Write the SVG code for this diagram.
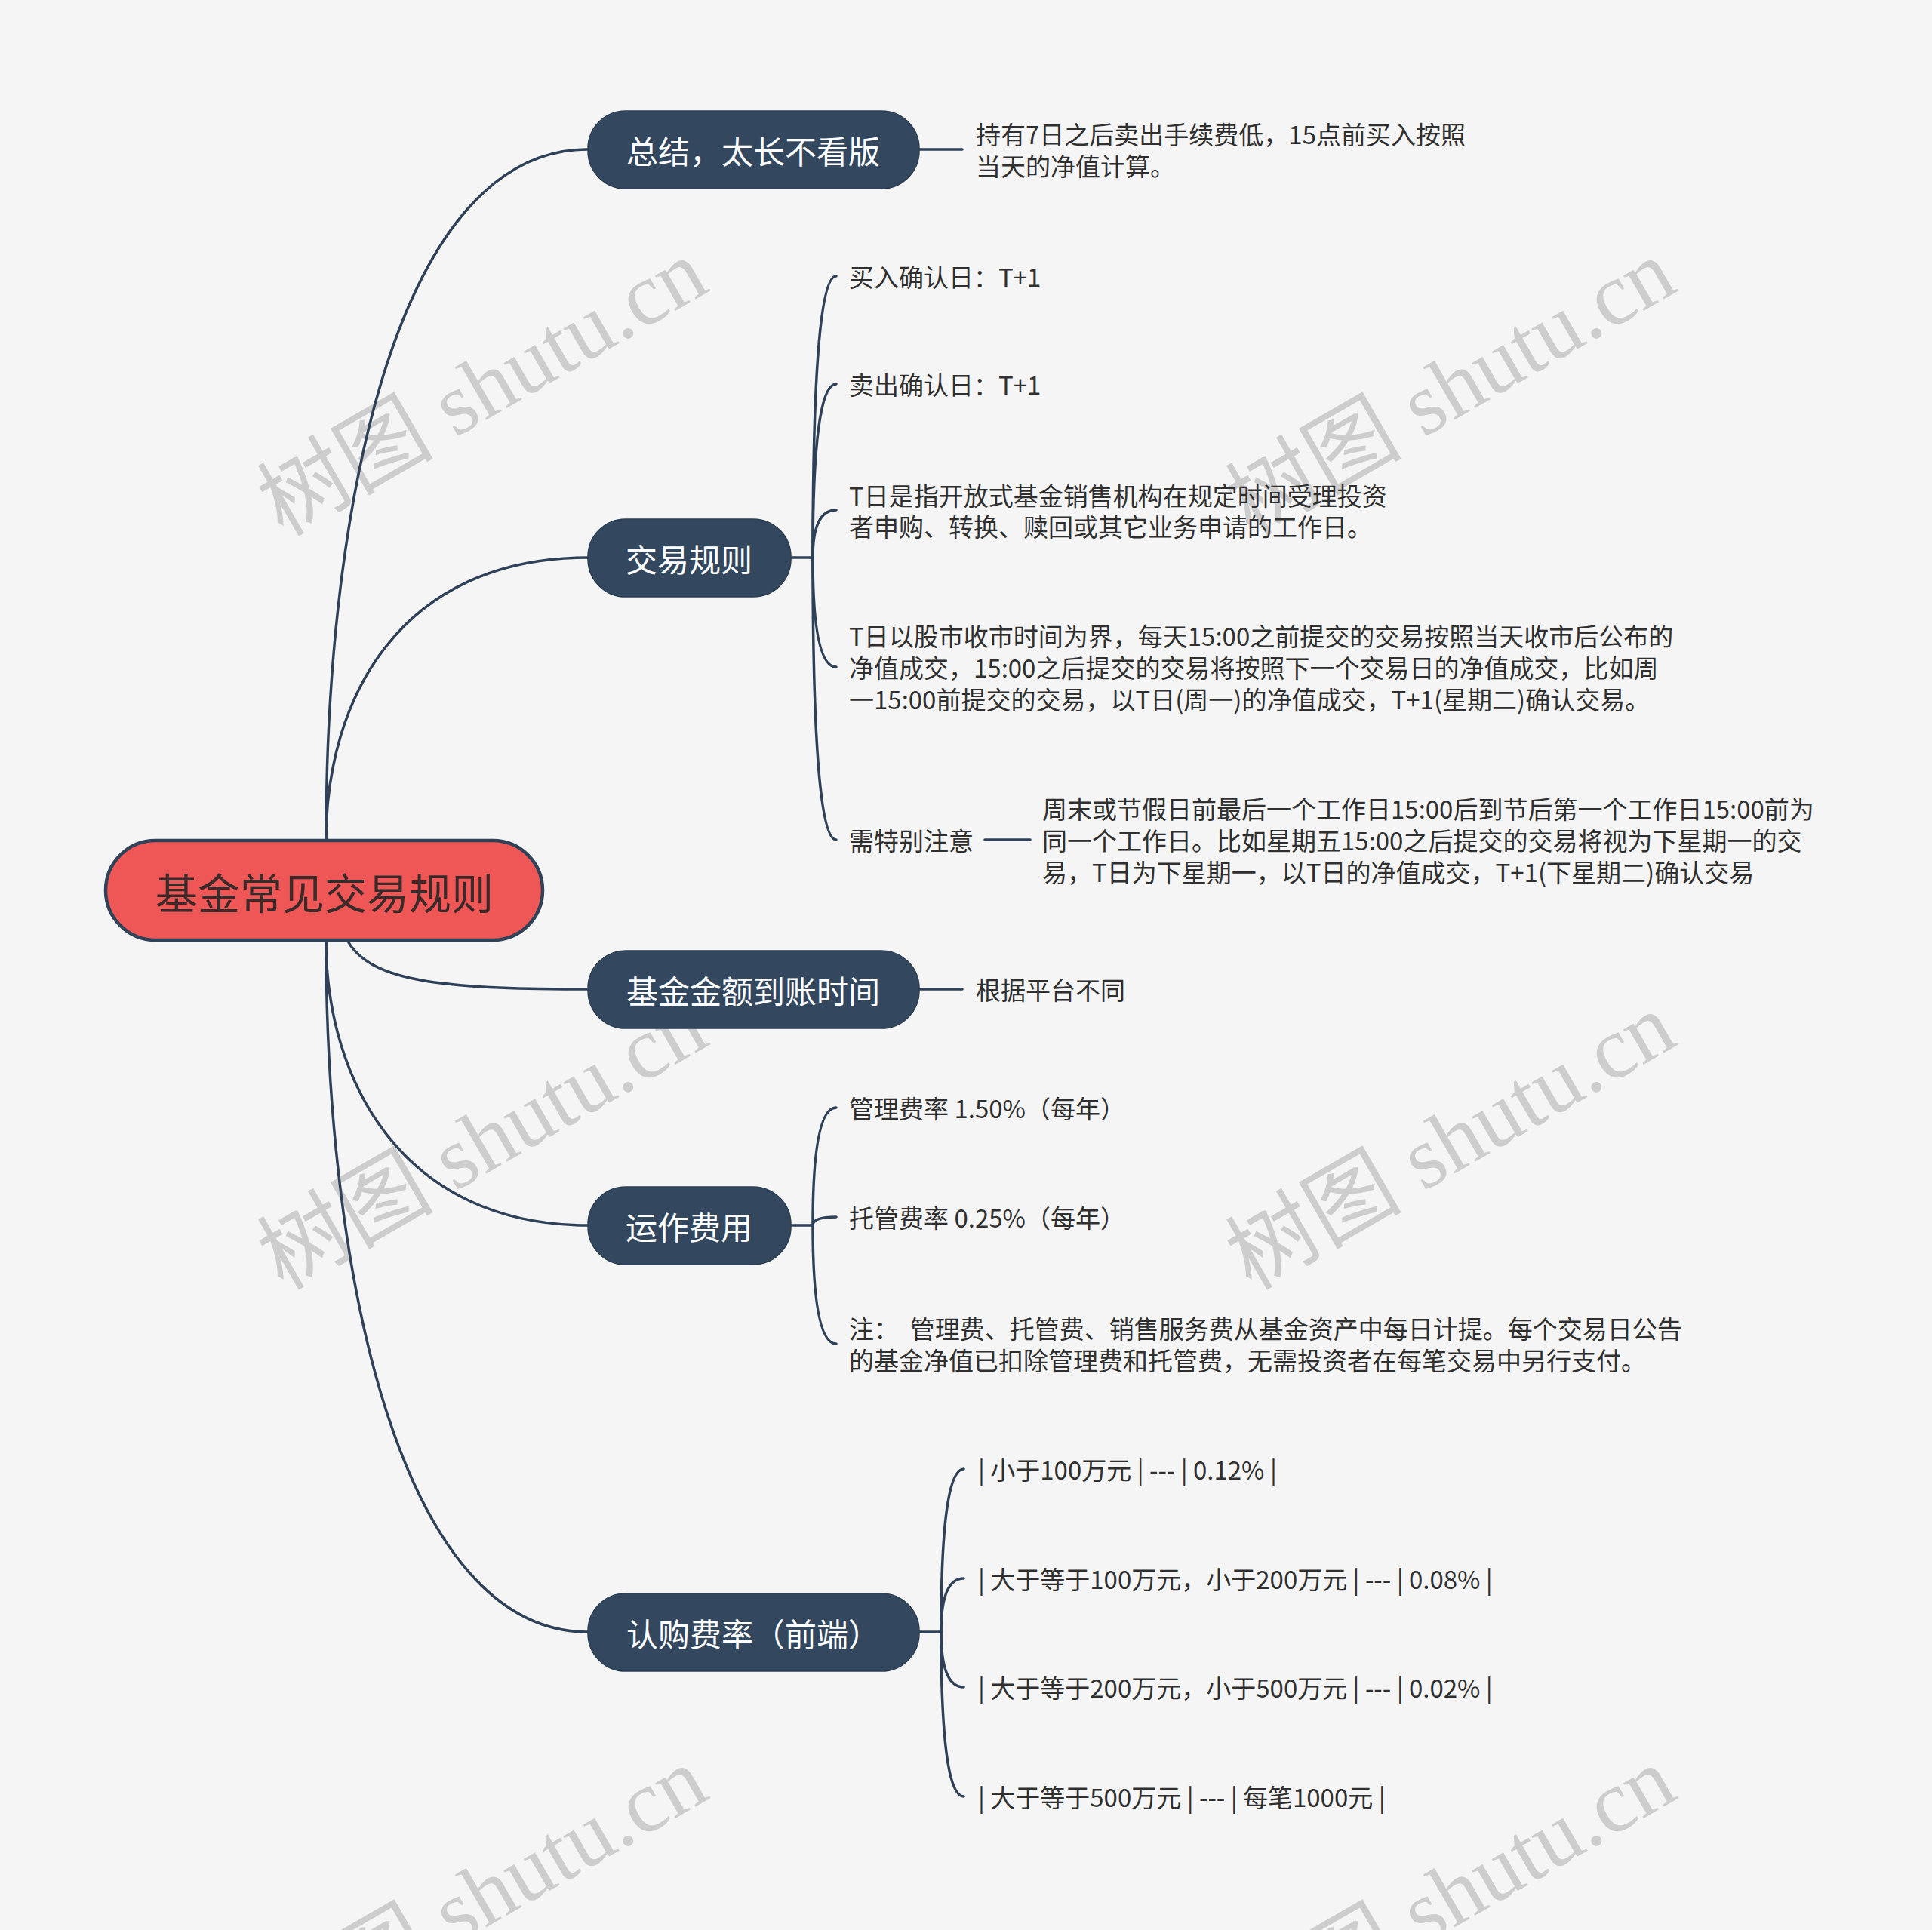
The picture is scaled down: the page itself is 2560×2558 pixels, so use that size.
<svg xmlns="http://www.w3.org/2000/svg" width="2560" height="2558" viewBox="0 0 2560 2558">
<style>
.bg{fill:#f5f5f5}
.wm{font-family:"Liberation Serif","Noto Sans CJK SC",serif;font-size:117px;fill:#cdcdcd;text-anchor:middle}
.conn{fill:none;stroke:#2e4158;stroke-width:3.5;stroke-linecap:round}
.root rect{fill:#ef5656;stroke:#2f4257;stroke-width:4.5}
.root text{font-family:"Noto Sans CJK SC","Noto Sans",sans-serif;font-size:56px;fill:#3b2a2a;text-anchor:middle;dominant-baseline:central}
.main rect{fill:#33485f;stroke:#2c3e52;stroke-width:1.5}
.main text{font-family:"Noto Sans CJK SC","Noto Sans",sans-serif;font-size:42px;fill:#ffffff;text-anchor:middle;dominant-baseline:central}
.leaf text,text.leaf{font-family:"Noto Sans CJK SC","Noto Sans",sans-serif;font-size:33px;fill:#2f2f2f;dominant-baseline:central}
</style>
<rect class="bg" x="0" y="0" width="2560" height="2558"/>
<g id="watermarks">
<text class="wm" transform="translate(659,548) rotate(-30)">树图 shutu.cn</text>
<text class="wm" transform="translate(1942,548) rotate(-30)">树图 shutu.cn</text>
<text class="wm" transform="translate(659,1547) rotate(-30)">树图 shutu.cn</text>
<text class="wm" transform="translate(1942,1547) rotate(-30)">树图 shutu.cn</text>
<text class="wm" transform="translate(659,2546) rotate(-30)">树图 shutu.cn</text>
<text class="wm" transform="translate(1942,2546) rotate(-30)">树图 shutu.cn</text>
</g>
<g id="connectors">
<path class="conn" d="M432,1114 C432,656 530,198 779,198"/>
<path class="conn" d="M432,1114 C432,926 530,739 779,739"/>
<path class="conn" d="M460,1246 C490,1300 580,1311 779,1311"/>
<path class="conn" d="M432,1246 C432,1435 535,1624 779,1624"/>
<path class="conn" d="M432,1246 C432,1705 535,2163 779,2163"/>
<path class="conn" d="M1218,198 L1275,198"/>
<path class="conn" d="M1048,739 L1077,739"/>
<path class="conn" d="M1077,739 Q1077,366 1108,366"/>
<path class="conn" d="M1077,739 Q1077,509 1108,509"/>
<path class="conn" d="M1077,739 Q1077,676 1108,676"/>
<path class="conn" d="M1077,739 Q1077,884 1108,884"/>
<path class="conn" d="M1077,739 Q1077,1113 1108,1113"/>
<path class="conn" d="M1305,1113 L1365,1113"/>
<path class="conn" d="M1218,1311 L1275,1311"/>
<path class="conn" d="M1048,1624 L1077,1624"/>
<path class="conn" d="M1077,1624 Q1077,1468 1108,1468"/>
<path class="conn" d="M1077,1624 Q1077,1613 1108,1613"/>
<path class="conn" d="M1077,1624 Q1077,1781 1108,1781"/>
<path class="conn" d="M1218,2163 L1247,2163"/>
<path class="conn" d="M1247,2163 Q1247,1947 1277,1947"/>
<path class="conn" d="M1247,2163 Q1247,2092 1277,2092"/>
<path class="conn" d="M1247,2163 Q1247,2236 1277,2236"/>
<path class="conn" d="M1247,2163 Q1247,2381 1277,2381"/>
</g>
<g id="root" class="root">
<rect x="140" y="1114" width="579" height="132" rx="66"/>
<text x="430" y="1180">基金常见交易规则</text>
</g>
<g id="node-summary" class="main">
<rect x="779" y="147" width="439" height="103" rx="50"/>
<text x="998" y="198">总结，太长不看版</text>
</g>
<g id="node-summary-detail" class="leaf">
<text x="1293" y="177">持有7日之后卖出手续费低，15点前买入按照</text>
<text x="1293" y="219">当天的净值计算。</text>
</g>
<g id="node-rules" class="main">
<rect x="779" y="688" width="269" height="103" rx="50"/>
<text x="913" y="739">交易规则</text>
</g>
<g id="leaf-buy" class="leaf"><text x="1125" y="366">买入确认日：T+1</text></g>
<g id="leaf-sell" class="leaf"><text x="1125" y="509">卖出确认日：T+1</text></g>
<g id="leaf-tday" class="leaf">
<text x="1125" y="656">T日是指开放式基金销售机构在规定时间受理投资</text>
<text x="1125" y="697">者申购、转换、赎回或其它业务申请的工作日。</text>
</g>
<g id="leaf-tday2" class="leaf">
<text x="1125" y="842">T日以股市收市时间为界，每天15:00之前提交的交易按照当天收市后公布的</text>
<text x="1125" y="884">净值成交，15:00之后提交的交易将按照下一个交易日的净值成交，比如周</text>
<text x="1125" y="926">一15:00前提交的交易，以T日(周一)的净值成交，T+1(星期二)确认交易。</text>
</g>
<g id="leaf-note" class="leaf"><text x="1125" y="1113">需特别注意</text></g>
<g id="leaf-note-detail" class="leaf">
<text x="1381" y="1071">周末或节假日前最后一个工作日15:00后到节后第一个工作日15:00前为</text>
<text x="1381" y="1113">同一个工作日。比如星期五15:00之后提交的交易将视为下星期一的交</text>
<text x="1381" y="1155">易，T日为下星期一，以T日的净值成交，T+1(下星期二)确认交易</text>
</g>
<g id="node-arrival" class="main">
<rect x="779" y="1260" width="439" height="103" rx="50"/>
<text x="998" y="1311">基金金额到账时间</text>
</g>
<g id="leaf-arrival" class="leaf"><text x="1293" y="1311">根据平台不同</text></g>
<g id="node-fees" class="main">
<rect x="779" y="1573" width="269" height="103" rx="50"/>
<text x="913" y="1624">运作费用</text>
</g>
<g id="leaf-mgmt" class="leaf"><text x="1125" y="1468">管理费率 1.50%（每年）</text></g>
<g id="leaf-custody" class="leaf"><text x="1125" y="1613">托管费率 0.25%（每年）</text></g>
<g id="leaf-fee-note" class="leaf">
<text x="1125" y="1760" xml:space="preserve">注：  管理费、托管费、销售服务费从基金资产中每日计提。每个交易日公告</text>
<text x="1125" y="1802">的基金净值已扣除管理费和托管费，无需投资者在每笔交易中另行支付。</text>
</g>
<g id="node-subscription" class="main">
<rect x="779" y="2112" width="439" height="103" rx="50"/>
<text x="998" y="2163">认购费率（前端）</text>
</g>
<g id="leaf-sub1" class="leaf"><text x="1296" y="1947">| 小于100万元 | --- | 0.12% |</text></g>
<g id="leaf-sub2" class="leaf"><text x="1296" y="2092">| 大于等于100万元，小于200万元 | --- | 0.08% |</text></g>
<g id="leaf-sub3" class="leaf"><text x="1296" y="2236">| 大于等于200万元，小于500万元 | --- | 0.02% |</text></g>
<g id="leaf-sub4" class="leaf"><text x="1296" y="2381">| 大于等于500万元 | --- | 每笔1000元 |</text></g>
</svg>
